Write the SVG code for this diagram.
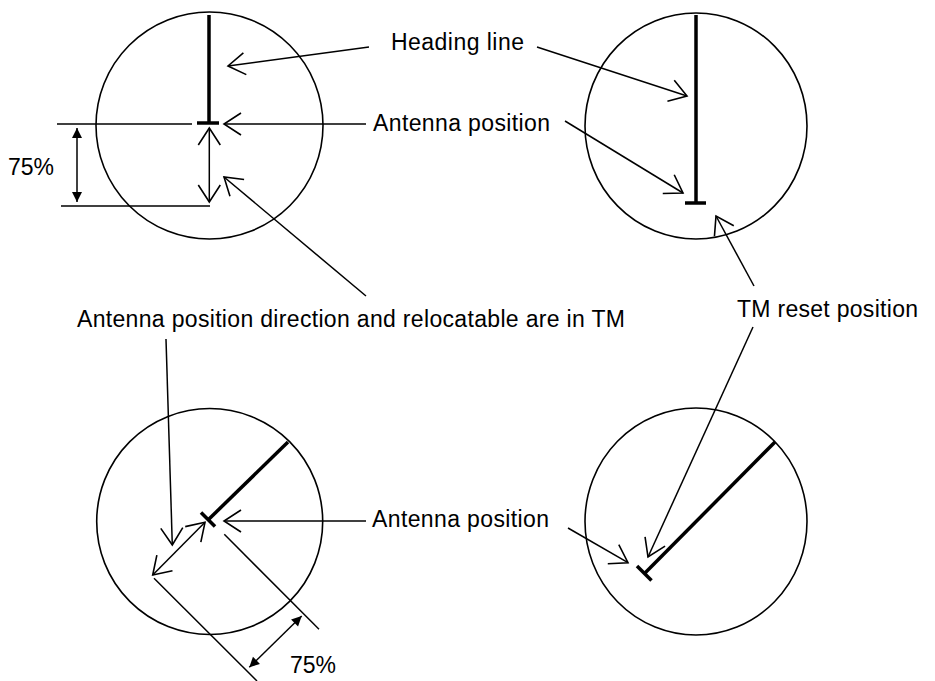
<svg xmlns="http://www.w3.org/2000/svg" width="935" height="681" viewBox="0 0 935 681">
<style>
.c{fill:none;stroke:#000;stroke-width:1.6}
.t{fill:none;stroke:#000;stroke-width:1.5}
.h{fill:none;stroke:#000;stroke-width:3.5}
.o{marker-end:url(#open)}
.oo{marker-start:url(#open);marker-end:url(#open)}
.ff{marker-start:url(#fill);marker-end:url(#fill)}
text{font-family:"Liberation Sans",Arial,sans-serif;font-size:23px;fill:#000}
</style>
<defs>
<marker id="open" markerUnits="userSpaceOnUse" markerWidth="40" markerHeight="40" viewBox="-20 -20 40 40" refX="0" refY="0" orient="auto-start-reverse" overflow="visible">
<path d="M-17,-11 L0,0 L-17,11" fill="none" stroke="#000" stroke-width="1.6"/>
</marker>
<marker id="fill" markerUnits="userSpaceOnUse" markerWidth="20" markerHeight="20" viewBox="-10 -10 20 20" refX="0" refY="0" orient="auto-start-reverse" overflow="visible">
<path d="M0,0 L-10,-5 L-10,5 Z" fill="#000"/>
</marker>
</defs>
<rect width="935" height="681" fill="#fff"/>

<g id="panel-top-left">
<circle class="c" cx="209.5" cy="125.5" r="113.5"/>
<line class="h" x1="209" y1="15" x2="209" y2="123"/>
<line class="h" x1="197" y1="123" x2="219" y2="123"/>
</g>
<g id="panel-top-right">
<ellipse class="c" cx="696" cy="126" rx="111" ry="113"/>
<line class="h" x1="696" y1="15" x2="696" y2="203"/>
<line class="h" x1="685" y1="203" x2="706" y2="203"/>
</g>
<g id="panel-bottom-left">
<circle class="c" cx="209.7" cy="521.5" r="113"/>
<line class="h" x1="288" y1="442" x2="208" y2="520"/>
<line class="h" x1="201" y1="512.5" x2="215" y2="526.5"/>
</g>
<g id="panel-bottom-right">
<ellipse class="c" cx="696" cy="521.5" rx="111" ry="113.5"/>
<line class="h" x1="775" y1="442" x2="645" y2="573"/>
<line class="h" x1="637" y1="566" x2="651.5" y2="580.5"/>
</g>

<g id="labels">
<text x="391" y="50" textLength="133" lengthAdjust="spacing">Heading line</text>
<text x="373" y="131" textLength="177" lengthAdjust="spacing">Antenna position</text>
<text x="8" y="175">75%</text>
<text x="77" y="327" textLength="548" lengthAdjust="spacing">Antenna position direction and relocatable are in TM</text>
<text x="737" y="317" textLength="181" lengthAdjust="spacing">TM reset position</text>
<text x="372" y="527" textLength="177" lengthAdjust="spacing">Antenna position</text>
<text x="290" y="673">75%</text>
</g>

<g id="connectors">
<!-- top-left -->
<line class="t o" x1="369" y1="47" x2="228" y2="66"/>
<line class="t o" x1="366" y1="124" x2="224" y2="124"/>
<line class="t" x1="57" y1="124" x2="192" y2="124"/>
<line class="t" x1="61" y1="206" x2="210" y2="206"/>
<line class="t ff" x1="77" y1="128" x2="77" y2="202"/>
<line class="t oo" x1="209.3" y1="128" x2="209.3" y2="202"/>
<line class="t o" x1="366" y1="296" x2="224" y2="177"/>
<!-- top-right -->
<line class="t o" x1="537" y1="47" x2="687" y2="96"/>
<line class="t o" x1="565" y1="121" x2="683" y2="193"/>
<line class="t o" x1="754" y1="286" x2="716" y2="216"/>
<!-- bottom-left -->
<line class="t o" x1="166" y1="339" x2="172.3" y2="545"/>
<line class="t o" x1="366" y1="521" x2="224" y2="521"/>
<line class="t oo" x1="205" y1="522.3" x2="152.7" y2="575"/>
<line class="t" x1="154" y1="578.3" x2="257" y2="681"/>
<line class="t" x1="224.3" y1="534.3" x2="319" y2="629.3"/>
<line class="t ff" x1="301.7" y1="616" x2="249.3" y2="667.3"/>
<!-- bottom-right -->
<line class="t o" x1="753" y1="327" x2="648" y2="557"/>
<line class="t o" x1="568" y1="528" x2="628" y2="562.7"/>
</g>
</svg>
